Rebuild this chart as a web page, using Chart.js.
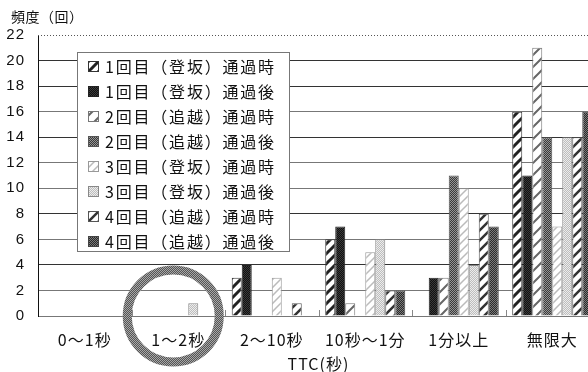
<!DOCTYPE html>
<html lang="ja">
<head>
<meta charset="utf-8">
<title>TTC 頻度</title>
<script src="https://cdn.jsdelivr.net/npm/chart.js@4.4.1/dist/chart.umd.min.js"></script>
<style>
  html, body { margin: 0; padding: 0; background: #fff; overflow: hidden; }
  #wrap { width: 599px; height: 372px; }
</style>
</head>
<body>
<div id="wrap"><canvas id="ttc-chart" width="599" height="372"></canvas></div>
<script>
// TTC区分ごとの頻度
const categories = ['0～1秒', '1～2秒', '2～10秒', '10秒～1分', '1分以上', '無限大'];
const seriesLabels = [
    '1回目（登坂）通過時', '1回目（登坂）通過後',
    '2回目（追越）通過時', '2回目（追越）通過後',
    '3回目（登坂）通過時', '3回目（登坂）通過後',
    '4回目（追越）通過時', '4回目（追越）通過後'
];
const run1During = [0, 0, 3, 6, 0, 16];
const run1After  = [0, 0, 4, 7, 3, 11];
const run2During = [0, 0, 0, 1, 3, 21];
const run2After  = [0, 0, 0, 0, 11, 14];
const run3During = [0, 0, 3, 5, 10, 7];
const run3After  = [0, 1, 0, 6, 4, 14];
const run4During = [0, 0, 1, 2, 8, 14];
const run4After  = [0, 0, 0, 2, 7, 16];
const yMax = 22;
const yStep = 2;

const jpFont = '"Noto Sans CJK JP", "Noto Sans", sans-serif';

// 斜線のハッチング
const makeHatch = (bg, fg, size, lineWidth) => {
    const c = document.createElement('canvas');
    c.width = size; c.height = size;
    const g = c.getContext('2d');
    g.fillStyle = bg;
    g.fillRect(0, 0, size, size);
    g.strokeStyle = fg;
    g.lineWidth = lineWidth;
    g.beginPath();
    [0, size, size * 2].forEach(k => {
        g.moveTo(k - size - 1, size + 1);
        g.lineTo(k + 1, -1);
    });
    g.stroke();
    return g.createPattern(c, 'repeat');
};

// 網点
const makeDots = (a, b) => {
    const c = document.createElement('canvas');
    c.width = 2; c.height = 2;
    const g = c.getContext('2d');
    g.fillStyle = a;
    g.fillRect(0, 0, 2, 2);
    g.fillStyle = b;
    g.fillRect(0, 0, 1, 1);
    g.fillRect(1, 1, 1, 1);
    return g.createPattern(c, 'repeat');
};

const fills = [
    makeHatch('#fff', '#222', 10, 3),
    makeDots('#111', '#3a3a3a'),
    makeHatch('#fff', '#666', 12, 2),
    makeDots('#3a3a3a', '#959595'),
    makeHatch('#fff', '#bbb', 8, 1.5),
    makeDots('#bdbdbd', '#ececec'),
    makeHatch('#fff', '#333', 10, 2.5),
    makeDots('#2a2a2a', '#7a7a7a')
];
const borders = ['#333', '#222', '#777', '#555', '#999', '#888', '#555', '#444'];
const seriesData = [run1During, run1After, run2During, run2After, run3During, run3After, run4During, run4After];

const datasets = seriesLabels.map((label, i) => ({
    label: label,
    data: seriesData[i],
    backgroundColor: fills[i],
    borderColor: borders[i],
    borderWidth: 1,
    categoryPercentage: 0.856,
    barPercentage: 1
}));

const darkLines = [4, 8, 14, 18, 20];
const ringFill = makeDots('#555', '#a8a8a8');

// 凡例・縦軸名・上端の点線・囲みを描く
const extras = {
    id: 'extras',
    beforeDraw: (chart) => {
        chart.ctx.letterSpacing = '1px';
    },
    afterDraw: (chart) => {
        const ctx = chart.ctx;
        const area = chart.chartArea;
        const x = chart.scales.x;
        const y = chart.scales.y;
        ctx.save();

        // 上端の点線
        ctx.strokeStyle = '#555';
        ctx.lineWidth = 1;
        ctx.setLineDash([1, 2]);
        ctx.beginPath();
        ctx.moveTo(area.left, Math.round(y.getPixelForValue(yMax)) + 0.5);
        ctx.lineTo(area.right, Math.round(y.getPixelForValue(yMax)) + 0.5);
        ctx.stroke();
        ctx.setLineDash([]);

        // 区分の境目の目盛
        ctx.strokeStyle = '#888';
        for (let i = 1; i < categories.length; i++) {
            const bx = Math.round((x.getPixelForValue(i - 1) + x.getPixelForValue(i)) / 2) + 0.5;
            ctx.beginPath();
            ctx.moveTo(bx, area.bottom - 6);
            ctx.lineTo(bx, area.bottom);
            ctx.stroke();
        }

        // 縦軸名
        ctx.fillStyle = '#111';
        ctx.font = '14px ' + jpFont;
        ctx.letterSpacing = '0.5px';
        ctx.textBaseline = 'middle';
        ctx.textAlign = 'left';
        ctx.fillText('頻度（回）', 11, 17);

        // 凡例
        const box = { left: 77.5, top: 52.5, width: 212, height: 199 };
        ctx.fillStyle = '#fff';
        ctx.fillRect(box.left, box.top, box.width, box.height);
        ctx.strokeStyle = '#777';
        ctx.strokeRect(box.left, box.top, box.width, box.height);
        ctx.font = '16px ' + jpFont;
        ctx.letterSpacing = '1.8px';
        chart.data.datasets.forEach((ds, i) => {
            const cy = box.top + 14 + i * 25;
            ctx.fillStyle = ds.backgroundColor;
            ctx.fillRect(88, Math.round(cy - 5.5), 11, 11);
            ctx.strokeStyle = ds.borderColor;
            ctx.strokeRect(88.5, Math.round(cy - 5.5) + 0.5, 10, 10);
            ctx.fillStyle = '#111';
            ctx.fillText(ds.label, 105, cy);
        });

        // 1～2秒の囲み
        ctx.strokeStyle = ringFill;
        ctx.lineWidth = 9;
        ctx.beginPath();
        ctx.arc(x.getPixelForValue(1) - 5, y.getPixelForValue(0), 46, 0, Math.PI * 2);
        ctx.stroke();

        ctx.restore();
    }
};

const ctx = document.getElementById('ttc-chart').getContext('2d');
new Chart(ctx, {
    type: 'bar',
    data: { labels: categories, datasets: datasets },
    options: {
        responsive: false,
        animation: false,
        devicePixelRatio: 1,
        layout: { padding: { top: 35, left: 0, right: 0, bottom: 0 } },
        plugins: {
            legend: { display: false },
            tooltip: { enabled: false }
        },
        scales: {
            x: {
                grid: { display: true, drawOnChartArea: false, drawTicks: false },
                border: { color: '#777' },
                ticks: {
                    color: '#111',
                    font: { family: jpFont, size: 16 },
                    padding: 14,
                    maxRotation: 0,
                    autoSkip: false
                },
                title: {
                    display: true,
                    text: 'TTC(秒)',
                    color: '#111',
                    font: { family: jpFont, size: 16 },
                    padding: { top: 0, bottom: -2 }
                },
                afterFit: (scale) => { scale.height = 56; }
            },
            y: {
                min: 0,
                max: yMax,
                ticks: {
                    stepSize: yStep,
                    color: '#111',
                    font: { family: '"Liberation Sans", Arial, sans-serif', size: 15 },
                    padding: 13
                },
                grid: {
                    drawTicks: false,
                    color: (c) => {
                        const v = c.tick ? c.tick.value : null;
                        if (v === 0 || v === yMax) return 'rgba(0,0,0,0)';
                        return darkLines.includes(v) ? '#333' : '#777';
                    }
                },
                border: { color: '#111' },
                afterFit: (scale) => { scale.width = 38; }
            }
        }
    },
    plugins: [extras]
});
</script>
</body>
</html>
